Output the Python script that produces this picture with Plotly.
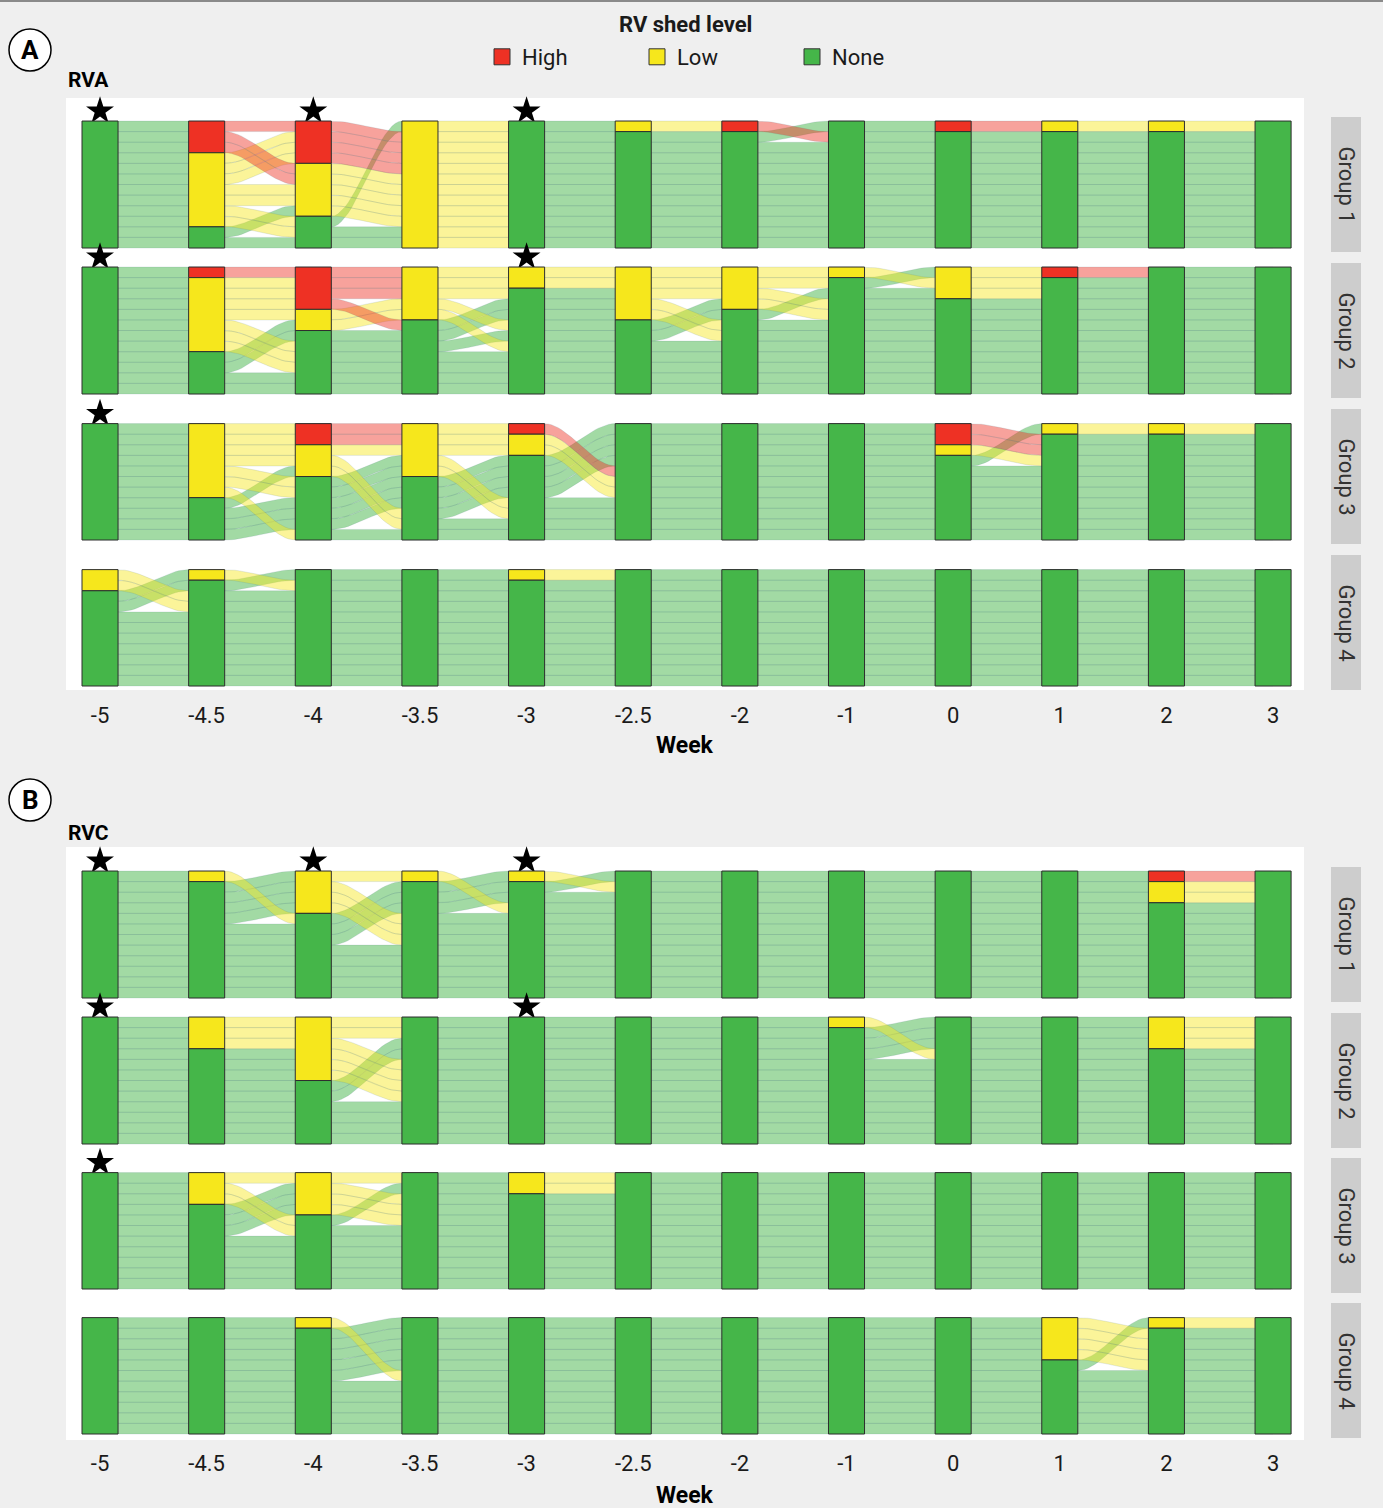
import plotly.graph_objects as go

# ---------------- data ----------------
WEEKS = ["-5", "-4.5", "-4", "-3.5", "-3", "-2.5", "-2", "-1", "0", "1", "2", "3"]
LEVEL_NAMES = ["High", "Low", "None"]
LEVEL_CODES = ["H", "L", "N"]
GROUPS = ["Group 1", "Group 2", "Group 3", "Group 4"]
STAR_WEEKS = {"Group 1": ["-5", "-4", "-3"], "Group 2": ["-5", "-3"], "Group 3": ["-5"], "Group 4": []}

# one string per animal, one letter per week (H = High, L = Low, N = None)
RVA_G1 = ["NHHLNNNNHLLN", "NHLLNNNNNNNN", "NHLLNNNNNNNN", "NLHLNNNNNNNN",
          "NLHLNNNNNNNN", "NLHLNNNNNNNN", "NLLLNNNNNNNN", "NLLLNNNNNNNN",
          "NLNLNLHNNNNN", "NLNLNNNNNNNN", "NNLLNNNNNNNN", "NNNLNNNNNNNN"]
RVA_G2 = ["NHHLLLLLLNNN", "NLHLLLLNLHNN", "NLHLNLLNNNNN", "NLHNNLNNNNNN",
          "NLLLNNLNNNNN", "NLNNNNNNNNNN", "NLNNNNNNLNNN", "NLNNNNNNNNNN",
          "NNLLNNNNNNNN", "NNNNNLNNNNNN", "NNNNNNNNNNNN", "NNNNNNNNNNNN"]
RVA_G3 = ["NLHLHNNNNNNN", "NLHLLNNNNNNN", "NLLLLNNNNNNN", "NLLNNNNNNLLN",
          "NLNLNNNNNNNN", "NLNLNNNNNNNN", "NLNNNNNNNNNN", "NNLNNNNNNNNN",
          "NNNNNNNNHNNN", "NNNNNNNNHNNN", "NNNNNNNNLNNN"]
RVA_G4 = ["LNNNNNNNNNNN", "LNNNNNNNNNNN", "NLNNNNNNNNNN", "NNNNLNNNNNNN",
          "NNNNNNNNNNNN", "NNNNNNNNNNNN", "NNNNNNNNNNNN", "NNNNNNNNNNNN",
          "NNNNNNNNNNNN", "NNNNNNNNNNNN", "NNNNNNNNNNNN"]
RVC_G1 = ["NLNNLNNNNNLN", "NNLLNNNNNNNN", "NNLNNNNNNNNN", "NNLNNNNNNNNN",
          "NNLNNNNNNNNN", "NNNNNNNNNNHN", "NNNNNNNNNNLN", "NNNNNNNNNNNN",
          "NNNNNNNNNNNN", "NNNNNNNNNNNN", "NNNNNNNNNNNN", "NNNNNNNNNNNN"]
RVC_G2 = ["NLLNNNNLNNNN", "NLLNNNNNNNLN", "NNNNNNNNNNLN", "NNNNNNNNNNLN",
          "NLLNNNNNNNNN", "NNLNNNNNNNNN", "NNLNNNNNNNNN", "NNLNNNNNNNNN",
          "NNNNNNNNNNNN", "NNNNNNNNNNNN", "NNNNNNNNNNNN", "NNNNNNNNNNNN"]
RVC_G3 = ["NLLNLNNNNNNN", "NLNNLNNNNNNN", "NLNNNNNNNNNN", "NNLNNNNNNNNN",
          "NNLNNNNNNNNN", "NNLNNNNNNNNN", "NNNNNNNNNNNN", "NNNNNNNNNNNN",
          "NNNNNNNNNNNN", "NNNNNNNNNNNN", "NNNNNNNNNNNN"]
RVC_G4 = ["NNLNNNNNNNNN", "NNNNNNNNNLNN", "NNNNNNNNNLNN", "NNNNNNNNNLNN",
          "NNNNNNNNNLNN", "NNNNNNNNNNLN", "NNNNNNNNNNNN", "NNNNNNNNNNNN",
          "NNNNNNNNNNNN", "NNNNNNNNNNNN", "NNNNNNNNNNNN"]

SECTIONS = [("A", "RVA", [RVA_G1, RVA_G2, RVA_G3, RVA_G4]),
            ("B", "RVC", [RVC_G1, RVC_G2, RVC_G3, RVC_G4])]

# ---------------- style / geometry ----------------
BAR_COLORS = {"H": "#ee3124", "L": "#f6e71c", "N": "#45b649"}
FLOW_COLORS = {"H": "rgba(238,49,36,0.45)", "L": "rgba(246,231,28,0.45)", "N": "rgba(69,182,73,0.5)"}
FLOW_LINE = "rgba(70,120,130,0.20)"
BG = "#efefef"
FONT = "Roboto, 'Open Sans', sans-serif"

W, H = 1383, 1508
PL, PR, PT, PB = 66, 1304, 98, 1440
X_RANGE = [-0.319, 11.29]
BAR_W = 0.338
UNIT = 10.58          # pixels per animal
PAD_BOT = 4
PANEL_H = 146
SECTION_BOTTOMS = [[248, 394, 540, 686], [998, 1144, 1289, 1434]]
SECTION_TOPS = [(98, 690), (847, 1440)]
LABEL_Y = [(50, 80, 745), (800, 833, 1495)]  # circle letter, sub title, week title


def px2x(X):
    return (X - PL) / (PR - PL)


def px2y(Y):
    return (PB - Y) / (PB - PT)


RANK = {"H": 0, "L": 1, "N": 2}


def lode_positions(traj):
    n, m = len(traj), len(traj[0])
    pos = []
    for i in range(m):
        guide = [i] + list(range(i + 1, m)) + list(range(i - 1, -1, -1))
        order = sorted(range(n), key=lambda a: tuple(RANK[traj[a][j]] for j in guide) + (a,))
        p = [0] * n
        for k, a in enumerate(order):
            p[a] = k
        pos.append(p)
    return pos


def smooth(t):
    return t * t * (3 - 2 * t)


fig = go.Figure()
layout_axes = {}
shapes = []
annotations = []


def add_text(text, X, Y, size, color="black", angle=0, xanchor="center"):
    annotations.append(dict(text=text, xref="paper", yref="paper", x=px2x(X), y=px2y(Y),
                            xanchor=xanchor, yanchor="middle", showarrow=False,
                            textangle=angle, font=dict(size=size, color=color, family=FONT)))


NPTS = 22
panel_id = 0
for s_idx, (letter, virus, panels) in enumerate(SECTIONS):
    xname = "x" if s_idx == 0 else "x2"
    for g_idx, traj in enumerate(panels):
        panel_id += 1
        base_id = panel_id
        over_id = panel_id + 8
        ya = "y" if base_id == 1 else f"y{base_id}"
        yo = f"y{over_id}"
        n = len(traj)
        m = len(WEEKS)
        pos = lode_positions(traj)

        bot = SECTION_BOTTOMS[s_idx][g_idx]
        dom = [px2y(bot + PAD_BOT), px2y(bot + PAD_BOT - PANEL_H)]
        yr = [-PAD_BOT / UNIT, (PANEL_H - PAD_BOT) / UNIT]
        layout_axes["yaxis" if base_id == 1 else f"yaxis{base_id}"] = dict(
            domain=dom, range=yr, visible=False, anchor=xname, fixedrange=True)
        layout_axes[f"yaxis{over_id}"] = dict(
            range=yr, visible=False, anchor=xname, overlaying=ya, fixedrange=True)

        # ---- flows ----
        buckets = {"H": ([], []), "L": ([], []), "N": ([], [])}
        half = BAR_W / 2
        for i in range(m - 1):
            xa, xb = i + half, i + 1 - half
            xs = [i] + [xa + (xb - xa) * k / (NPTS - 1) for k in range(NPTS)] + [i + 1]
            ss = [0.0] + [smooth(k / (NPTS - 1)) for k in range(NPTS)] + [1.0]
            for a in range(n):
                t0 = n - pos[i][a]
                t1 = n - pos[i + 1][a]
                top = [t0 + (t1 - t0) * s for s in ss]
                botl = [t - 1 for t in top]
                bx, by = buckets[traj[a][i]]
                bx.extend(xs + xs[::-1] + [xs[0], None])
                by.extend(top + botl[::-1] + [top[0], None])
        for code in ["N", "L", "H"]:
            bx, by = buckets[code]
            if not bx:
                continue
            fig.add_trace(go.Scatter(
                x=bx, y=by, mode="lines", fill="toself", fillcolor=FLOW_COLORS[code],
                line=dict(color=FLOW_LINE, width=0.7), hoverinfo="skip",
                showlegend=False, xaxis=xname, yaxis=ya))

        # ---- stars ----
        sw = STAR_WEEKS[GROUPS[g_idx]]
        if sw:
            fig.add_trace(go.Scatter(
                x=[WEEKS.index(w) for w in sw], y=[n + 0.95] * len(sw), mode="markers",
                marker=dict(symbol="star", size=21, color="black"),
                cliponaxis=False, hoverinfo="skip", showlegend=False,
                xaxis=xname, yaxis=ya))

        # ---- stacked strata bars ----
        counts = {c: [sum(1 for t in traj if t[i] == c) for i in range(m)] for c in LEVEL_CODES}
        for code, name in zip(LEVEL_CODES, LEVEL_NAMES):
            xs_, ys_, bs_ = [], [], []
            for i in range(m):
                c = counts[code][i]
                if c == 0:
                    continue
                if code == "N":
                    b = 0
                elif code == "L":
                    b = counts["N"][i]
                else:
                    b = counts["N"][i] + counts["L"][i]
                xs_.append(i)
                ys_.append(c)
                bs_.append(b)
            if xs_:
                fig.add_trace(go.Bar(
                    x=xs_, y=ys_, base=bs_, width=BAR_W, name=name,
                    marker=dict(color=BAR_COLORS[code], line=dict(color="#2e2e2e", width=1)),
                    showlegend=False, hovertemplate=name + ": %{y}<extra></extra>",
                    xaxis=xname, yaxis=yo))

        # ---- strip ----
        s_top, s_bot = bot - 131, bot + 4
        shapes.append(dict(type="rect", xref="paper", yref="paper",
                           x0=px2x(1331), x1=px2x(1361), y0=px2y(s_bot), y1=px2y(s_top),
                           fillcolor="#cdcdcd", line=dict(width=0), layer="below"))
        add_text(GROUPS[g_idx], 1346, (s_top + s_bot) / 2, 22, "#333333", angle=90)

    # section white background
    t_px, b_px = SECTION_TOPS[s_idx]
    shapes.append(dict(type="rect", xref="paper", yref="paper", x0=0, x1=1,
                       y0=px2y(b_px), y1=px2y(t_px), fillcolor="white",
                       line=dict(width=0), layer="below"))
    cy, sy, wy = LABEL_Y[s_idx]
    shapes.append(dict(type="circle", xref="paper", yref="paper",
                       x0=px2x(9), x1=px2x(51), y0=px2y(cy + 21), y1=px2y(cy - 21),
                       fillcolor="white", line=dict(color="black", width=1.5)))
    add_text(f"<b>{letter}</b>", 30, cy, 26)
    add_text(f"<b>{virus}</b>", 66, sy, 21, xanchor="left")
    add_text("<b>Week</b>", 685, wy, 23)

# legend title
add_text("<b>RV shed level</b>", 685, 24, 22, "#1a1a1a")

# top border line
shapes.append(dict(type="line", xref="paper", yref="paper", x0=px2x(0), x1=px2x(W),
                   y0=px2y(1), y1=px2y(1), line=dict(color="#8a8a8a", width=2)))

# legend entries
for code, name in zip(LEVEL_CODES, LEVEL_NAMES):
    fig.add_trace(go.Scatter(
        x=[None], y=[None], mode="markers", name=name,
        marker=dict(symbol="square", size=16, color=BAR_COLORS[code],
                    line=dict(color="#333333", width=1)),
        showlegend=True, xaxis="x", yaxis="y"))

xcommon = dict(domain=[0, 1], range=X_RANGE, tickvals=list(range(len(WEEKS))), ticktext=WEEKS,
               showgrid=False, zeroline=False, showline=False, ticks="outside", ticklen=6,
               tickcolor="rgba(0,0,0,0)", tickfont=dict(size=22, color="#1a1a1a", family=FONT),
               fixedrange=True)

fig.update_layout(
    width=W, height=H, autosize=False,
    margin=dict(l=PL, r=W - PR, t=PT, b=H - PB, pad=0, autoexpand=False),
    paper_bgcolor=BG, plot_bgcolor="rgba(0,0,0,0)",
    barmode="overlay",
    font=dict(family=FONT, color="#1a1a1a"),
    xaxis=dict(anchor="y4", **xcommon),
    xaxis2=dict(anchor="y8", **xcommon),
    shapes=shapes, annotations=annotations,
    legend=dict(orientation="h", x=px2x(482), xanchor="left", y=px2y(57), yanchor="middle",
                font=dict(size=22, color="#1a1a1a", family=FONT),
                entrywidth=110, entrywidthmode="pixels", bgcolor="rgba(0,0,0,0)",
                itemclick=False, itemdoubleclick=False),
    **layout_axes,
)

fig.write_html("out.html",
               config={"displayModeBar": False},
               post_script="document.body.style.margin='0px';"
                           "document.body.style.background='#efefef';")
